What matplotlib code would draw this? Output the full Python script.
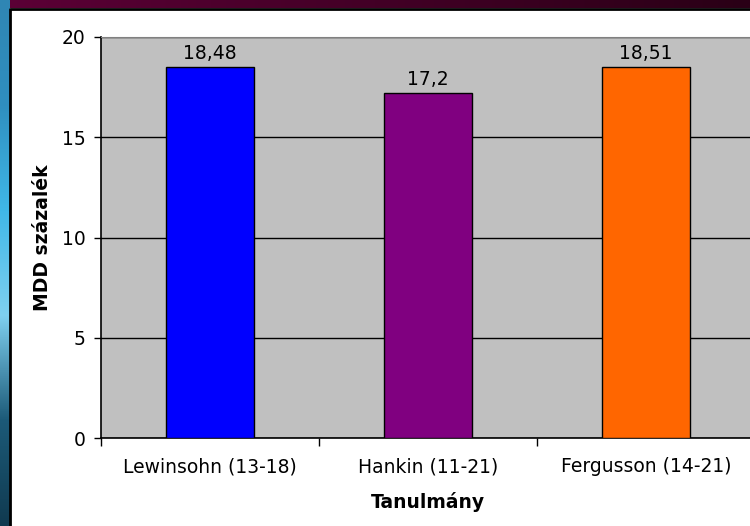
import numpy as np
import matplotlib.pyplot as plt
from matplotlib.colors import LinearSegmentedColormap

studies = ['Lewinsohn (13-18)', 'Hankin (11-21)', 'Fergusson (14-21)']
mdd_percent = [18.48, 17.2, 18.51]
value_labels = ['18,48', '17,2', '18,51']
bar_colors = ['#0000FF', '#800080', '#FF6600']
y_ticks = [0, 5, 10, 15, 20]

W, H = 750, 526
fig = plt.figure(figsize=(W / 100, H / 100), dpi=100)
fig.patch.set_facecolor('white')

# slide decoration: blue strip on the left, maroon strip on top, black frame line
bg = fig.add_axes([0, 0, 1, 1], zorder=-10)
bg.set_xlim(0, W)
bg.set_ylim(H, 0)
bg.axis('off')
top_cmap = LinearSegmentedColormap.from_list('top', ['#5c0036', '#2a0016'])
bg.imshow(np.linspace(0, 1, 256).reshape(1, -1), extent=(0, W, 8, 0),
          aspect='auto', cmap=top_cmap)
left_cmap = LinearSegmentedColormap.from_list(
    'left', ['#2f86b4', '#2f8fc0', '#40b8e8', '#7fd0f0', '#1c5a78', '#103a50'])
bg.imshow(np.linspace(0, 1, 256).reshape(-1, 1), extent=(0, 10, H, 0),
          aspect='auto', cmap=left_cmap)
bg.plot([10, 10, W], [H, 8.5, 8.5], color='black', lw=2)

ax = fig.add_axes([101 / W, 1 - 438 / H, 654 / W, 401 / H])
ax.set_facecolor('#C0C0C0')
x = np.arange(len(studies))
ax.bar(x, mdd_percent, width=0.4, color=bar_colors, edgecolor='black',
       linewidth=1, zorder=3)
for xi, v, lab in zip(x, mdd_percent, value_labels):
    ax.text(xi, v + 0.2, lab, ha='center', va='bottom', fontsize=13.5, zorder=4)

ax.set_xlim(-0.5, 2.5)
ax.set_ylim(0, 20)
ax.set_yticks(y_ticks)
ax.yaxis.grid(True, color='black', linewidth=1)
ax.set_axisbelow(True)

# category boundaries get the tick marks, names sit between them
ax.set_xticks([-0.5, 0.5, 1.5, 2.5])
ax.set_xticklabels([])
ax.set_xticks(x, minor=True)
ax.set_xticklabels(studies, minor=True)
ax.tick_params(axis='x', which='minor', length=0, pad=14, labelsize=13.5)
ax.tick_params(axis='x', which='major', length=6, width=1)
ax.tick_params(axis='y', length=5, width=1, labelsize=13.5, pad=6)

ax.spines['top'].set_color('#808080')
ax.spines['right'].set_visible(False)
for s in ['left', 'bottom']:
    ax.spines[s].set_color('black')
    ax.spines[s].set_linewidth(1.2)

ax.set_xlabel('Tanulmány', fontsize=13.5, fontweight='bold', labelpad=11)
ax.set_ylabel('MDD százalék', fontsize=13.5, fontweight='bold', labelpad=7)

fig.savefig('out.png', dpi=100)
